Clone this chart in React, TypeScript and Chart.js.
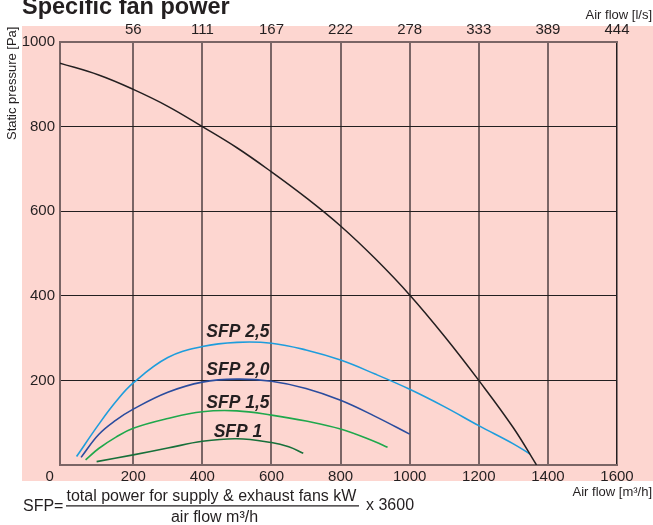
import React, { useEffect, useRef } from "react";
import { Chart, registerables } from "chart.js";

Chart.register(...registerables);

// ---------- data ----------
const xMin = -12;
const xMax = 1600;
const yMin = 0;
const yMax = 1000;

const xTicks = [0, 200, 400, 600, 800, 1000, 1200, 1400, 1600];
const xTickLabels = ["0", "200", "400", "600", "800", "1000", "1200", "1400", "1600"];
const topTickLabels = ["", "56", "111", "167", "222", "278", "333", "389", "444"];
const yTicks = [200, 400, 600, 800, 1000];

const fanFlow = [-12, 100, 200, 300, 400, 500, 600, 700, 800, 900, 1000, 1100, 1200, 1300, 1367];
const fanPressure = [950, 922, 888, 848, 800, 750, 693, 632, 565, 488, 402, 305, 200, 88, 0];

const sfp25Flow = [36, 100, 150, 200, 300, 400, 500, 600, 700, 800, 900, 1000, 1100, 1200, 1300, 1348];
const sfp25Pressure = [20, 96, 150, 194, 254, 280, 290, 288, 272, 248, 215, 179, 138, 93, 50, 26];

const sfp20Flow = [49, 100, 150, 200, 300, 400, 500, 600, 700, 800, 900, 1000];
const sfp20Pressure = [18, 72, 106, 132, 172, 196, 203, 198, 181, 153, 115, 73];

const sfp15Flow = [62, 100, 150, 200, 300, 400, 500, 600, 700, 800, 900, 936];
const sfp15Pressure = [12, 39, 66, 87, 110, 126, 128, 118, 104, 85, 55, 42];

const sfp10Flow = [94, 200, 300, 400, 500, 600, 650, 692];
const sfp10Pressure = [8, 24, 40, 56, 62, 53, 43, 28];

const sfpLabels = ["SFP 2,5", "SFP 2,0", "SFP 1,5", "SFP 1"];
const sfpLabelFlow = [503, 503, 503, 503];
const sfpLabelPressure = [302, 213, 135, 66];

const titleText = "Specific fan power";
const yTitle = "Static pressure [Pa]";
const topAxisTitle = "Air flow [l/s]";
const bottomAxisTitle = "Air flow [m\u00b3/h]";
const formulaLeft = "SFP=";
const formulaNum = "total power for supply & exhaust fans kW";
const formulaDen = "air flow m\u00b3/h";
const formulaRight = "x 3600";

// ---------- styles ----------
const FONT = "'Liberation Sans', Arial, sans-serif";
const TEXT = "#231F20";
const PINK = "#FDD6D0";
const GRID_BROWN = "#7A6565";

const zip = (xs: number[], ys: number[]) => xs.map((x, i) => ({ x, y: ys[i] }));

const decorPlugin = {
  id: "decor",
  beforeDraw(chart: any) {
    const { ctx } = chart;
    ctx.save();
    ctx.fillStyle = PINK;
    ctx.fillRect(22, 26, 653 - 22, 481 - 26);
    ctx.restore();
  },
  afterDatasetsDraw(chart: any) {
    const { ctx, scales } = chart;
    ctx.save();
    ctx.fillStyle = TEXT;
    ctx.font = `italic bold 17.5px ${FONT}`;
    ctx.textAlign = "center";
    ctx.textBaseline = "alphabetic";
    sfpLabels.forEach((t, i) => {
      ctx.fillText(t, scales.x.getPixelForValue(sfpLabelFlow[i]), scales.y.getPixelForValue(sfpLabelPressure[i]));
    });
    ctx.restore();
  },
  afterDraw(chart: any) {
    const { ctx } = chart;
    ctx.save();
    ctx.fillStyle = TEXT;
    ctx.textBaseline = "alphabetic";

    ctx.font = `bold 23.5px ${FONT}`;
    ctx.textAlign = "left";
    ctx.fillText(titleText, 22, 14);

    ctx.font = `13px ${FONT}`;
    ctx.textAlign = "right";
    ctx.fillText(topAxisTitle, 652, 19);
    ctx.fillText(bottomAxisTitle, 652, 496);

    ctx.save();
    ctx.translate(15.5, 140);
    ctx.rotate(-Math.PI / 2);
    ctx.textAlign = "left";
    ctx.fillText(yTitle, 0, 0);
    ctx.restore();

    ctx.font = `16px ${FONT}`;
    ctx.textAlign = "left";
    ctx.fillText(formulaLeft, 23, 511);
    ctx.fillText(formulaNum, 66.5, 501);
    ctx.fillText(formulaRight, 366, 510);
    ctx.textAlign = "center";
    ctx.fillText(formulaDen, 214.5, 521.5);
    ctx.strokeStyle = TEXT;
    ctx.lineWidth = 1.2;
    ctx.beginPath();
    ctx.moveTo(66, 505.8);
    ctx.lineTo(359, 505.8);
    ctx.stroke();
    ctx.restore();
  },
};

export default function App() {
  const ref = useRef<HTMLCanvasElement | null>(null);

  useEffect(() => {
    if (!ref.current) return;
    const line = (data: any[], color: string, width: number) => ({
      data,
      borderColor: color,
      backgroundColor: color,
      borderWidth: width,
      pointRadius: 0,
      fill: false,
      tension: 0.4,
      xAxisID: "x",
      yAxisID: "y",
    });

    const chart = new Chart(ref.current, {
      type: "line",
      data: {
        datasets: [
          line(zip(fanFlow, fanPressure), "#231F20", 1.5),
          line(zip(sfp25Flow, sfp25Pressure), "#1E9DDC", 1.6),
          line(zip(sfp20Flow, sfp20Pressure), "#2A4C9E", 1.6),
          line(zip(sfp15Flow, sfp15Pressure), "#1FA84C", 1.6),
          line(zip(sfp10Flow, sfp10Pressure), "#17703A", 1.6),
        ],
      },
      options: {
        responsive: false,
        devicePixelRatio: 1,
        animation: false,
        parsing: true,
        layout: { padding: { left: 0, right: 36, top: 0, bottom: 0 } },
        plugins: { legend: { display: false }, tooltip: { enabled: false }, title: { display: false } },
        scales: {
          x: {
            type: "linear",
            position: "bottom",
            min: xMin,
            max: xMax,
            afterFit: (s: any) => { s.height = 60; },
            afterBuildTicks: (s: any) => { s.ticks = xTicks.map((v) => ({ value: v })); },
            ticks: {
              autoSkip: false,
              maxRotation: 0,
              padding: 3,
              color: TEXT,
              font: { family: FONT, size: 15 },
              callback: (_v: any, i: number) => (i === 0 ? xTickLabels[i] + "       " : xTickLabels[i]),
            },
            grid: {
              drawTicks: false,
              color: (c: any) => (c.tick && c.tick.value === 0 ? "rgba(0,0,0,0)" : c.tick && c.tick.value === xMax ? "#231F20" : GRID_BROWN),
              lineWidth: (c: any) => (c.tick && c.tick.value === xMax ? 1.5 : 2),
            },
            border: { display: true, color: GRID_BROWN, width: 2 },
          },
          x2: {
            type: "linear",
            position: "top",
            min: xMin,
            max: xMax,
            afterFit: (s: any) => { s.height = 42; },
            afterBuildTicks: (s: any) => { s.ticks = xTicks.map((v) => ({ value: v })); },
            ticks: {
              autoSkip: false,
              maxRotation: 0,
              padding: 3,
              color: TEXT,
              font: { family: FONT, size: 15 },
              callback: (_v: any, i: number) => topTickLabels[i],
            },
            grid: { display: false, drawTicks: false },
            border: { display: true, color: GRID_BROWN, width: 2 },
          },
          y: {
            type: "linear",
            position: "left",
            min: yMin,
            max: yMax,
            afterFit: (s: any) => { s.width = 60; },
            afterBuildTicks: (s: any) => { s.ticks = yTicks.map((v) => ({ value: v })); },
            ticks: {
              padding: 5,
              color: TEXT,
              font: { family: FONT, size: 15 },
              callback: (v: any) => String(v),
            },
            grid: {
              drawTicks: false,
              color: (c: any) => (c.tick && c.tick.value === yMax ? "rgba(0,0,0,0)" : "#231F20"),
              lineWidth: 1,
            },
            border: { display: true, color: GRID_BROWN, width: 2 },
          },
        },
      },
      plugins: [decorPlugin],
    });
    return () => chart.destroy();
  }, []);

  return (
    <div style={{ position: "absolute", left: 0, top: 0, width: 653, height: 525 }}>
      <canvas ref={ref} width={653} height={525} style={{ display: "block", width: 653, height: 525 }} />
    </div>
  );
}
